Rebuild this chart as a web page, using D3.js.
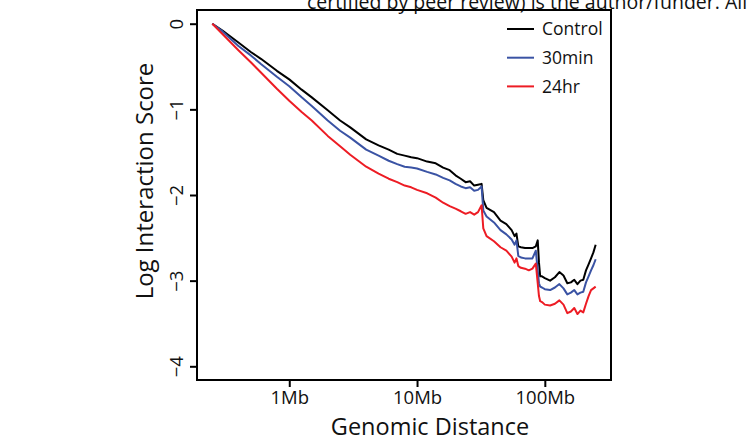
<!DOCTYPE html>
<html lang="en">
<head>
<meta charset="utf-8">
<title>Contact decay</title>
<script type="text/javascript" src="https://cdn.jsdelivr.net/npm/d3@7"></script>
<style>
  body { margin: 0; background: #fff; }
  text { font-family: "Open Sans", sans-serif; fill: #111; }
</style>
</head>
<body>
<script type="text/javascript">
// genomic distance in Mb
let distMb = [0.25, 0.3, 0.4, 0.5, 0.6, 0.8, 1, 1.25, 1.5, 2, 2.5, 3, 4, 5, 6, 7, 8, 9, 10,
  12, 14, 16, 18, 20, 22, 24, 26, 28, 30, 32, 33, 35, 40, 45, 50, 55, 58, 60, 62, 65,
  70, 75, 80, 85, 88, 90, 92, 95, 100, 110, 120, 130, 140, 150, 160, 170, 180, 190,
  200, 210, 220, 230, 240, 250];

let control = [0, -0.08, -0.22, -0.33, -0.41, -0.55, -0.65, -0.77, -0.86, -1.01,
  -1.13, -1.21, -1.35, -1.42, -1.47, -1.52, -1.54, -1.56, -1.57, -1.61,
  -1.63, -1.68, -1.71, -1.77, -1.81, -1.85, -1.84, -1.89, -1.88, -1.87,
  -2.06, -2.15, -2.20, -2.30, -2.34, -2.41, -2.48, -2.45, -2.60, -2.61,
  -2.62, -2.62, -2.62, -2.60, -2.53, -2.79, -2.95, -2.95, -2.97, -3.00,
  -2.96, -2.90, -2.94, -3.03, -3.02, -2.99, -3.04, -3.00, -2.99, -2.88,
  -2.81, -2.74, -2.67, -2.58];

let min30 = [0, -0.09, -0.26, -0.37, -0.47, -0.62, -0.73, -0.86, -0.96, -1.13,
  -1.25, -1.33, -1.47, -1.54, -1.60, -1.64, -1.67, -1.68, -1.69, -1.73,
  -1.76, -1.80, -1.83, -1.87, -1.90, -1.92, -1.91, -1.95, -1.94, -1.90,
  -2.18, -2.25, -2.32, -2.41, -2.46, -2.52, -2.58, -2.53, -2.71, -2.73,
  -2.74, -2.74, -2.74, -2.65, -2.88, -3.03, -3.07, -3.08, -3.10, -3.11,
  -3.08, -3.04, -3.09, -3.16, -3.14, -3.11, -3.16, -3.14, -3.13, -3.02,
  -2.95, -2.88, -2.82, -2.75];

let hr24 = [0, -0.12, -0.31, -0.45, -0.57, -0.76, -0.90, -1.03, -1.13, -1.31,
  -1.43, -1.53, -1.67, -1.75, -1.81, -1.85, -1.89, -1.91, -1.94, -1.98,
  -2.03, -2.09, -2.13, -2.16, -2.19, -2.22, -2.20, -2.23, -2.20, -2.12,
  -2.39, -2.48, -2.54, -2.61, -2.65, -2.72, -2.79, -2.74, -2.83, -2.85,
  -2.86, -2.88, -2.86, -2.80, -3.03, -3.18, -3.24, -3.25, -3.28, -3.29,
  -3.27, -3.23, -3.28, -3.38, -3.36, -3.32, -3.39, -3.35, -3.37, -3.27,
  -3.18, -3.11, -3.09, -3.07];

let seriesNames = ["Control", "30min", "24hr"];
let seriesColors = ["#000000", "#3a53a4", "#ed1c24"];
let xTicks = [1, 10, 100];
let xTickLabels = ["1Mb", "10Mb", "100Mb"];
let yTicks = [0, -1, -2, -3, -4];

let w = 753;
let h = 441;
let plotL = 197, plotR = 611, plotT = 10, plotB = 380;

// R style 4% padding on the log axis
let lx0 = Math.log10(d3.min(distMb)), lx1 = Math.log10(d3.max(distMb));
let pad = (lx1 - lx0) * 0.04;

let xScale = d3.scaleLog()
  .domain([Math.pow(10, lx0 - pad), Math.pow(10, lx1 + pad)])
  .range([plotL, plotR]);

let yScale = d3.scaleLinear()
  .domain([-4.16, 0.16])
  .range([plotB, plotT]);

let svg = d3.select("body")
  .append("svg")
  .attr("width", w)
  .attr("height", h);

// clipped preprint notice at the very top
svg.append("text")
  .attr("x", 307)
  .attr("y", 9)
  .style("font-size", "19.5px")
  .text("certified by peer review) is the author/funder. All rights reserved. No reuse allowed without permission.");

let line = d3.line()
  .x((d) => xScale(d[0]))
  .y((d) => yScale(d[1]));

let allSeries = [control, min30, hr24];
allSeries.forEach(function(vals, i) {
  svg.append("path")
    .datum(distMb.map((d, j) => [d, vals[j]]))
    .attr("d", line)
    .attr("fill", "none")
    .attr("stroke", seriesColors[i])
    .attr("stroke-width", 2)
    .attr("stroke-linejoin", "round");
});

// box
svg.append("rect")
  .attr("x", plotL)
  .attr("y", plotT)
  .attr("width", plotR - plotL)
  .attr("height", plotB - plotT)
  .attr("fill", "none")
  .attr("stroke", "#000")
  .attr("stroke-width", 2);

let xAxis = d3.axisBottom(xScale)
  .tickValues(xTicks)
  .tickFormat((d, i) => xTickLabels[i])
  .tickSize(7)
  .tickSizeOuter(0)
  .tickPadding(4);

let gx = svg.append("g")
  .attr("transform", "translate(0," + plotB + ")")
  .call(xAxis);
gx.select(".domain").remove();
gx.selectAll("line").attr("stroke-width", 2);
gx.selectAll("text").style("font-size", "18.5px").attr("fill", "#111");

let yAxis = d3.axisLeft(yScale)
  .tickValues(yTicks)
  .tickFormat((d) => d === 0 ? "0" : "\u2212" + Math.abs(d))
  .tickSize(7)
  .tickSizeOuter(0);

let gy = svg.append("g")
  .attr("transform", "translate(" + plotL + ",0)")
  .call(yAxis);
gy.select(".domain").remove();
gy.selectAll("line").attr("stroke-width", 2);
gy.selectAll("text")
  .attr("x", null)
  .attr("dy", null)
  .attr("text-anchor", "middle")
  .attr("transform", "translate(-14,0) rotate(-90)")
  .style("font-size", "18.5px")
  .attr("fill", "#111");

// axis titles
svg.append("text")
  .attr("x", 430)
  .attr("y", 435)
  .attr("text-anchor", "middle")
  .style("font-size", "23.5px")
  .text("Genomic Distance");

svg.append("text")
  .attr("transform", "translate(153," + ((plotT + plotB) / 2 - 14) + ") rotate(-90)")
  .attr("text-anchor", "middle")
  .style("font-size", "24px")
  .text("Log Interaction Score");

// legend
let legend = svg.append("g");
seriesNames.forEach(function(name, i) {
  let y = 29 + i * 28.7;
  legend.append("line")
    .attr("x1", 507).attr("x2", 534)
    .attr("y1", y).attr("y2", y)
    .attr("stroke", seriesColors[i])
    .attr("stroke-width", 2);
  legend.append("text")
    .attr("x", 542)
    .attr("y", y)
    .attr("dy", "0.35em")
    .style("font-size", "17.5px")
    .text(name);
});
</script>
</body>
</html>
